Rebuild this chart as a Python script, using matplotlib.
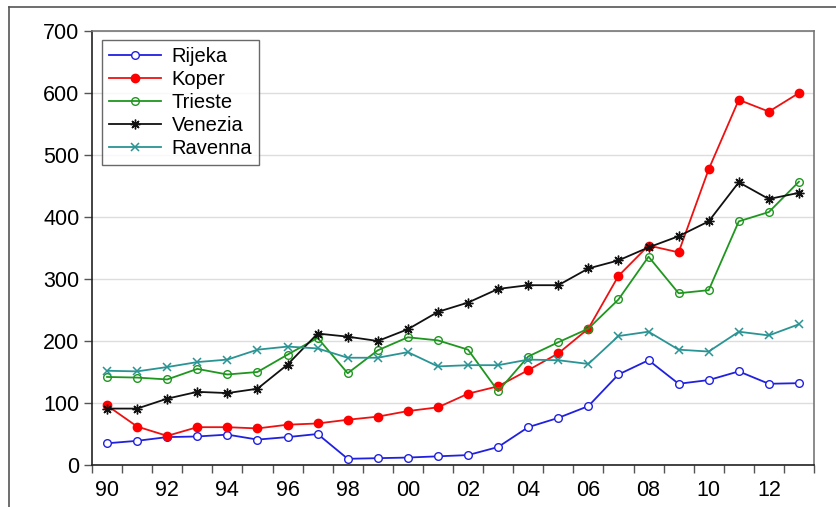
import matplotlib
matplotlib.use("Agg")
import matplotlib.pyplot as plt
from matplotlib.lines import Line2D

plt.rcParams['font.family'] = ['Liberation Sans', 'DejaVu Sans']

years = list(range(1990, 2014))

rijeka = [35, 39, 45, 46, 49, 41, 45, 50, 10, 11, 12, 14, 16, 29,
          61, 76, 95, 146, 169, 131, 137, 151, 131, 132]
koper = [96, 62, 47, 61, 61, 59, 65, 67, 73, 78, 87, 93, 115, 127,
         153, 180, 220, 305, 354, 343, 477, 589, 570, 600]
trieste = [142, 141, 138, 155, 146, 150, 178, 205, 148, 185, 206, 201, 186, 119,
           175, 198, 220, 267, 336, 277, 282, 393, 408, 457]
venezia = [91, 91, 107, 118, 116, 123, 162, 212, 207, 200, 219, 247, 262, 284,
           290, 290, 317, 330, 351, 369, 393, 456, 429, 439]
ravenna = [152, 151, 158, 166, 170, 186, 191, 188, 173, 173, 182, 159, 161, 161,
           170, 169, 163, 208, 215, 186, 183, 215, 209, 227]

series = [
    ("Rijeka", rijeka, "#2020e0", dict(marker="o", mfc="white", mec="#2020e0", ms=5.5, mew=1.0)),
    ("Koper", koper, "#ee1111", dict(marker="o", mfc="#ff0000", mec="#ff0000", ms=6, mew=1.0)),
    ("Trieste", trieste, "#1f961f", dict(marker="o", mfc="none", mec="#1f961f", ms=5.5, mew=1.0)),
    ("Venezia", venezia, "#111111", dict(marker=(8, 2, 0), mfc="#111111", mec="#111111", ms=7, mew=1.0)),
    ("Ravenna", ravenna, "#2a9494", dict(marker="x", mfc="#2a9494", mec="#2a9494", ms=5.5, mew=1.1)),
]

fig = plt.figure(figsize=(8.37, 5.07), dpi=100)
ax = fig.add_axes([92 / 837, 42 / 507, 722 / 837, 434 / 507])

# outer frame (top and left edges only)
fig.add_artist(Line2D([9 / 837, 1], [1 - 7 / 507, 1 - 7 / 507], transform=fig.transFigure,
                      color="#555555", lw=1.2))
fig.add_artist(Line2D([9 / 837, 9 / 837], [0, 1 - 7 / 507], transform=fig.transFigure,
                      color="#555555", lw=1.2))

xs = [y + 0.5 for y in years]
for name, vals, col, mk in series:
    ax.plot(xs, vals, color=col, lw=1.3, label=name, **mk)

ax.set_xlim(1990, 2014)
ax.set_ylim(0, 700)
ax.set_yticks(range(0, 701, 100))
ax.yaxis.grid(True, color="#dddddd", lw=1.0)
ax.set_axisbelow(True)

ax.set_xticks(range(1990, 2015))
ax.set_xticklabels([])
label_years = years[::2]
ax.set_xticks([y + 0.5 for y in label_years], minor=True)
ax.set_xticklabels(["%02d" % (y % 100) for y in label_years], minor=True)
ax.tick_params(axis="x", which="major", length=5.5, width=1.0, color="#555555")
ax.tick_params(axis="x", which="minor", length=0, labelsize=15.5, pad=11)
ax.tick_params(axis="y", length=6, width=1.0, color="#555555", labelsize=15.5, pad=3)

for s in ["left", "bottom"]:
    ax.spines[s].set_color("#222222")
for s in ["top", "right"]:
    ax.spines[s].set_color("#777777")
for s in ax.spines.values():
    s.set_linewidth(1.2)

leg = ax.legend(loc="upper left", fontsize=14.5,
                frameon=True, fancybox=False, edgecolor="#444444",
                handlelength=2.6, handletextpad=0.5, labelspacing=0.2,
                borderpad=0.35, borderaxespad=0.0)
leg.get_frame().set_linewidth(1.0)
leg.set_bbox_to_anchor((10 / 722, 1 - 9 / 434), transform=ax.transAxes)

fig.savefig("out.png", dpi=100)
